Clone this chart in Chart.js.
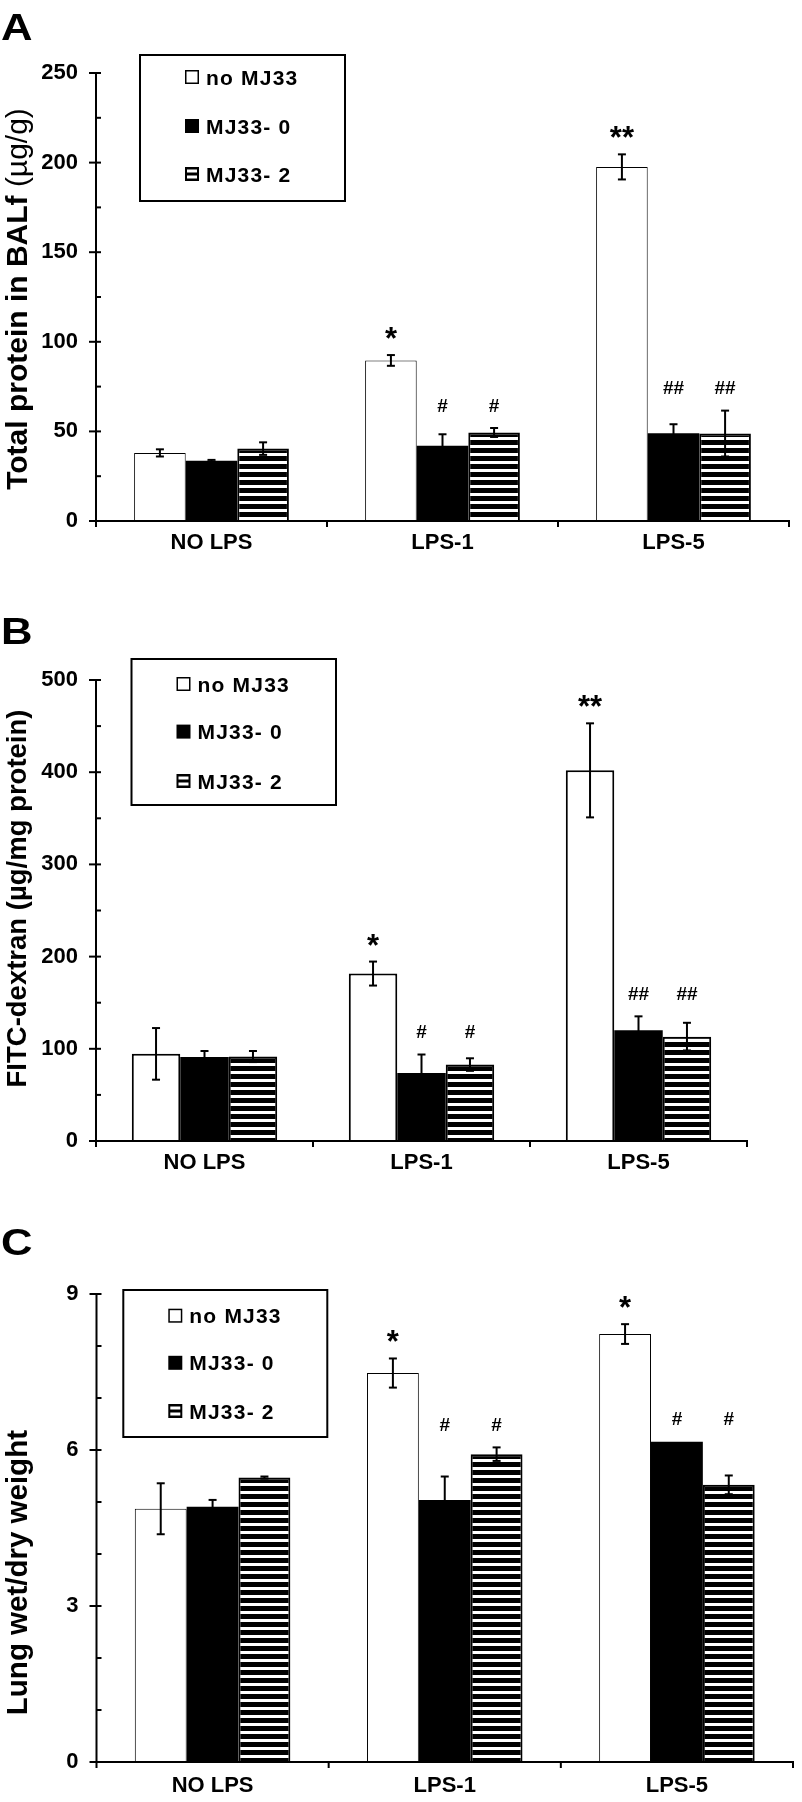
<!DOCTYPE html>
<html><head><meta charset="utf-8">
<script src="https://cdn.jsdelivr.net/npm/chart.js@4.4.1/dist/chart.umd.min.js"></script>
<style>
html,body{margin:0;padding:0;background:#fff;}
body{width:802px;height:1802px;position:relative;overflow:hidden;}
canvas{position:absolute;left:0;}
</style></head><body>
<canvas id="cA" width="802" height="570" style="top:0px"></canvas>
<canvas id="cB" width="802" height="620" style="top:570px"></canvas>
<canvas id="cC" width="802" height="612" style="top:1190px"></canvas>
<script>
// ---------- data ----------
const categories = ['NO LPS', 'LPS-1', 'LPS-5'];
const seriesNames = ['no MJ33', 'MJ33- 0', 'MJ33- 2'];

// Panel A: total protein in BALf (µg/g)
const proteinNoMJ33 = [38, 89.6, 197.6];
const proteinMJ33_0 = [33.6, 42, 49];
const proteinMJ33_2 = [40.4, 49.4, 48.8];
const proteinErrNoMJ33 = [2, 3, 7];
const proteinErrMJ33_0 = [0.5, 6.4, 5];
const proteinErrMJ33_2 = [3.5, 2.5, 12.8];
const proteinTicks = [0, 50, 100, 150, 200, 250];

// Panel B: FITC-dextran (µg/mg protein)
const fitcNoMJ33 = [94.5, 181.6, 402];
const fitcMJ33_0 = [91, 73.8, 120.2];
const fitcMJ33_2 = [91.6, 82.9, 113.2];
const fitcErrNoMJ33 = [28, 13, 51];
const fitcErrMJ33_0 = [6.6, 20, 15];
const fitcErrMJ33_2 = [6, 6.8, 15];
const fitcTicks = [0, 100, 200, 300, 400, 500];

// Panel C: lung wet/dry weight
const wetDryNoMJ33 = [4.87, 7.48, 8.23];
const wetDryMJ33_0 = [4.91, 5.04, 6.16];
const wetDryMJ33_2 = [5.47, 5.92, 5.33];
const wetDryErrNoMJ33 = [0.49, 0.28, 0.19];
const wetDryErrMJ33_0 = [0.13, 0.45, 0];
const wetDryErrMJ33_2 = [0.02, 0.13, 0.18];
const wetDryTicks = [0, 3, 6, 9];

// significance marks
const marksAB_noMJ33 = ['', '*', '**'];
const marksAB_MJ33 = ['', '#', '##'];
const marksC_noMJ33 = ['', '*', '*'];
const marksC_MJ33 = ['', '#', '#'];

// ---------- drawing ----------
const FONT = "'Liberation Sans', Arial, Helvetica, sans-serif";

function makeStripePattern(ctx) {
  const c = document.createElement('canvas');
  c.width = 8; c.height = 8;
  const g = c.getContext('2d');
  g.fillStyle = '#fff'; g.fillRect(0, 0, 8, 8);
  g.fillStyle = '#000'; g.fillRect(0, 0, 8, 5);
  return ctx.createPattern(c, 'repeat');
}

function buildPanel(cfg) {
  const canvas = document.getElementById(cfg.id);
  const ctx = canvas.getContext('2d');
  const stripes = makeStripePattern(ctx);
  const T = cfg.canvasTop;
  const A = cfg.area;
  const fills = ['#ffffff', '#000000', stripes];
  const bws = [cfg.whiteBorder, 0, 2];
  const tickMax = cfg.ticks[cfg.ticks.length - 1];
  const major = cfg.ticks[1] - cfg.ticks[0];

  const datasets = cfg.values.map((vals, i) => ({
    label: seriesNames[i], data: vals,
    backgroundColor: fills[i], borderColor: '#000', borderWidth: bws[i],
    borderSkipped: 'bottom', categoryPercentage: 0.67, barPercentage: 1.0
  }));

  function line(c, x1, y1, x2, y2) { c.beginPath(); c.moveTo(x1, y1); c.lineTo(x2, y2); c.stroke(); }

  const overlay = {
    id: 'overlay',
    afterDraw(chart) {
      const c = chart.ctx, ys = chart.scales.y;
      const L = chart.chartArea.left, R = chart.chartArea.right, Tp = chart.chartArea.top, B = chart.chartArea.bottom;
      c.save();
      c.strokeStyle = '#000'; c.fillStyle = '#000'; c.lineWidth = 2; c.lineCap = 'butt';
      // axes
      line(c, L, Tp - 1, L, B + 6);
      line(c, L, B, R + 1, B);
      // y ticks (major + minor)
      const nMinor = Math.round(tickMax / cfg.minor);
      for (let k = 0; k <= nMinor; k++) {
        const v = k * cfg.minor;
        const y = ys.getPixelForValue(v);
        const isMajor = Math.abs(v / major - Math.round(v / major)) < 1e-6;
        line(c, isMajor ? L - 7 : L, y, L + 5, y);
      }
      // x category separators
      const n = categories.length;
      for (let i = 1; i <= n; i++) {
        const x = L + (R - L) * i / n;
        line(c, x, B, x, B + 6);
      }
      // error bars
      const tops = [];
      chart.data.datasets.forEach((ds, di) => {
        const meta = chart.getDatasetMeta(di);
        tops[di] = [];
        meta.data.forEach((bar, j) => {
          const v = ds.data[j], e = cfg.errors[di][j];
          const y1 = ys.getPixelForValue(v + e), y2 = ys.getPixelForValue(v - e);
          tops[di][j] = { x: bar.x, y: y1 };
          if (!e) return;
          c.lineWidth = 2;
          line(c, bar.x, y1, bar.x, y2);
          line(c, bar.x - 4, y1, bar.x + 4, y1);
          line(c, bar.x - 4, y2, bar.x + 4, y2);
        });
      });
      // significance marks
      c.textAlign = 'center'; c.textBaseline = 'alphabetic';
      for (let j = 0; j < n; j++) {
        const m0 = cfg.marks[0][j];
        if (m0) {
          const size = 31;
          c.font = 'bold ' + size + 'px ' + FONT;
          const yc = tops[0][j].y - 24;
          c.fillText(m0, tops[0][j].x, yc + 0.58 * size);
        }
        const m1 = cfg.marks[1][j];
        if (m1) {
          const size = 19;
          c.font = 'bold ' + size + 'px ' + FONT;
          const lvl = Math.min(tops[1][j].y, tops[2][j].y) - 23;
          c.fillText(m1, tops[1][j].x, lvl + 0.35 * size);
          c.fillText(m1, tops[2][j].x, lvl + 0.35 * size);
        }
      }
      // legend box
      const lg = cfg.legend;
      c.lineWidth = 2;
      c.strokeRect(lg.x, lg.y - T, lg.w, lg.h);
      c.textAlign = 'left';
      c.font = 'bold 21px ' + FONT;
      try { c.letterSpacing = '1.2px'; } catch (e) {}
      for (let i = 0; i < 3; i++) {
        const cy = lg.rows[i] - T;
        const mx = lg.x + 45, s = 14, my = cy - s / 2;
        if (i === 0) {
          c.fillStyle = '#fff'; c.fillRect(mx, my, s, s);
          c.lineWidth = 1.5; c.strokeRect(mx + 0.75, my + 0.75, s - 1.5, s - 1.5);
        } else if (i === 1) {
          c.fillStyle = '#000'; c.fillRect(mx, my, s, s);
        } else {
          c.fillStyle = '#000'; c.fillRect(mx, my, s, s);
          c.fillStyle = '#fff';
          c.fillRect(mx + 2, my + 2.5, s - 4, 3);
          c.fillRect(mx + 2, my + 8.5, s - 4, 3);
        }
        c.fillStyle = '#000';
        c.fillText(seriesNames[i], lg.x + 66, cy + 7.5);
      }
      try { c.letterSpacing = '0px'; } catch (e) {}
      // panel letter (slightly wide, as in the original)
      c.save();
      c.font = 'bold 37px ' + FONT;
      c.translate(1, cfg.letterBaseline - T);
      c.scale(1.18, 1);
      c.fillText(cfg.letter, 0, 0);
      c.restore();
      // y title (rotated, possibly mixed weights)
      const tt = cfg.title;
      let total = 0;
      const widths = tt.parts.map(p => {
        c.font = (p.bold ? 'bold ' : '') + tt.size + 'px ' + FONT;
        const w = c.measureText(p.text).width; total += w; return w;
      });
      c.translate(tt.x, tt.cy - T);
      c.rotate(-Math.PI / 2);
      let u = -total / 2;
      tt.parts.forEach((p, k) => {
        c.font = (p.bold ? 'bold ' : '') + tt.size + 'px ' + FONT;
        c.fillText(p.text, u, 0);
        u += widths[k];
      });
      c.restore();
    }
  };

  new Chart(ctx, {
    type: 'bar',
    data: { labels: categories, datasets },
    options: {
      responsive: false, animation: false, devicePixelRatio: 1,
      layout: { padding: { top: A.top - T, left: 0, right: 802 - A.right, bottom: 0 } },
      plugins: { legend: { display: false }, tooltip: { enabled: false }, title: { display: false } },
      scales: {
        x: {
          grid: { display: false, drawTicks: false }, border: { display: false },
          ticks: { color: '#000', font: { family: FONT, size: 22, weight: 'bold' }, padding: cfg.xPad, maxRotation: 0, autoSkip: false },
          afterFit(s) { s.height = (T + cfg.height) - A.bottom; }
        },
        y: {
          min: 0, max: tickMax,
          grid: { display: false, drawTicks: false }, border: { display: false },
          afterBuildTicks(s) { s.ticks = cfg.ticks.map(v => ({ value: v })); },
          ticks: { color: '#000', font: { family: FONT, size: 22, weight: 'bold' }, padding: 18 },
          afterFit(s) { s.width = A.left; }
        }
      }
    },
    plugins: [overlay]
  });
}

buildPanel({
  id: 'cA', canvasTop: 0, height: 570,
  area: { left: 96, right: 789, top: 73, bottom: 521 },
  values: [proteinNoMJ33, proteinMJ33_0, proteinMJ33_2],
  errors: [proteinErrNoMJ33, proteinErrMJ33_0, proteinErrMJ33_2],
  marks: [marksAB_noMJ33, marksAB_MJ33],
  ticks: proteinTicks, minor: 25, whiteBorder: 1, xPad: 9,
  legend: { x: 140, y: 55, w: 205, h: 146, rows: [77, 126, 174] },
  letter: 'A', letterBaseline: 39.5,
  title: { x: 27, cy: 299, size: 30, parts: [{ text: 'Total protein in BALf ', bold: true }, { text: '(µg/g)', bold: false }] }
});

buildPanel({
  id: 'cB', canvasTop: 570, height: 620,
  area: { left: 96, right: 747, top: 680, bottom: 1141 },
  values: [fitcNoMJ33, fitcMJ33_0, fitcMJ33_2],
  errors: [fitcErrNoMJ33, fitcErrMJ33_0, fitcErrMJ33_2],
  marks: [marksAB_noMJ33, marksAB_MJ33],
  ticks: fitcTicks, minor: 50, whiteBorder: 2, xPad: 9,
  legend: { x: 131.5, y: 659, w: 204.5, h: 146, rows: [684, 731.6, 781] },
  letter: 'B', letterBaseline: 644,
  title: { x: 26, cy: 898.5, size: 27.5, parts: [{ text: 'FITC-dextran (µg/mg protein)', bold: true }] }
});

buildPanel({
  id: 'cC', canvasTop: 1190, height: 612,
  area: { left: 96.5, right: 793, top: 1294, bottom: 1762 },
  values: [wetDryNoMJ33, wetDryMJ33_0, wetDryMJ33_2],
  errors: [wetDryErrNoMJ33, wetDryErrMJ33_0, wetDryErrMJ33_2],
  marks: [marksC_noMJ33, marksC_MJ33],
  ticks: wetDryTicks, minor: 1, whiteBorder: 1, xPad: 11,
  legend: { x: 123.3, y: 1290, w: 204, h: 147, rows: [1315.7, 1362.8, 1411] },
  letter: 'C', letterBaseline: 1255,
  title: { x: 27, cy: 1572.6, size: 29.5, parts: [{ text: 'Lung wet/dry weight', bold: true }] }
});
</script>
</body></html>
